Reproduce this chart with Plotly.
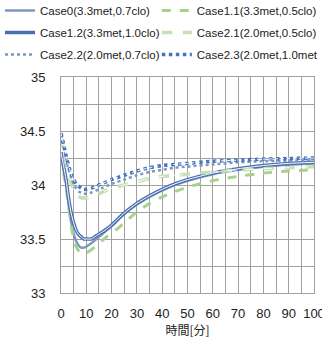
import plotly.graph_objects as go

time_min = [0, 1, 2, 3, 4, 5, 6, 7, 8, 9, 10, 12, 14, 16, 18, 20, 25, 30, 35, 40, 45, 50, 60, 70, 80, 90, 100]

case0 = [34.30, 34.15, 34.02, 33.82, 33.66, 33.55, 33.48, 33.44, 33.42, 33.42, 33.43, 33.46, 33.50, 33.54, 33.58, 33.62,
         33.73, 33.82, 33.89, 33.95, 34.00, 34.04, 34.10, 34.14, 34.17, 34.19, 34.20]
case1_1 = [34.28, 34.12, 33.98, 33.80, 33.63, 33.50, 33.43, 33.39, 33.37, 33.36, 33.37, 33.40, 33.44, 33.48, 33.52, 33.55,
           33.65, 33.75, 33.83, 33.89, 33.94, 33.98, 34.04, 34.08, 34.11, 34.13, 34.14]
case1_2 = [34.30, 34.18, 34.05, 33.88, 33.74, 33.65, 33.58, 33.54, 33.52, 33.50, 33.50, 33.50, 33.53, 33.56, 33.59, 33.63,
           33.74, 33.83, 33.90, 33.96, 34.01, 34.05, 34.11, 34.15, 34.18, 34.20, 34.21]
case2_1 = [34.45, 34.32, 34.20, 34.10, 34.02, 33.96, 33.92, 33.90, 33.88, 33.88, 33.88, 33.89, 33.91, 33.93, 33.95, 33.97,
           34.00, 34.03, 34.06, 34.08, 34.09, 34.10, 34.12, 34.14, 34.15, 34.16, 34.17]
case2_2 = [34.47, 34.36, 34.25, 34.15, 34.07, 34.01, 33.97, 33.94, 33.93, 33.92, 33.92, 33.93, 33.95, 33.97, 33.99, 34.01,
           34.05, 34.09, 34.12, 34.14, 34.16, 34.17, 34.19, 34.21, 34.22, 34.225, 34.23]
case2_3 = [34.48, 34.38, 34.27, 34.18, 34.10, 34.05, 34.01, 33.99, 33.97, 33.96, 33.96, 33.97, 33.99, 34.01, 34.03, 34.05,
           34.09, 34.13, 34.16, 34.18, 34.19, 34.20, 34.22, 34.23, 34.24, 34.245, 34.25]

names = ["Case0(3.3met,0.7clo)", "Case1.1(3.3met,0.5clo)", "Case1.2(3.3met,1.0clo)",
         "Case2.1(2.0met,0.5clo)", "Case2.2(2.0met,0.7clo)", "Case2.3(2.0met,1.0met"]

x_ticks = [0, 10, 20, 30, 40, 50, 60, 70, 80, 90, 100]
y_ticks = [33, 33.5, 34, 34.5, 35]
y_tick_labels = ["33", "33.5", "34", "34.5", "35"]

fig = go.Figure()

# (series, name, color, width, dash, double, legend column)
styles = [
    (case0, names[0], "#7F96C0", 2.5, "solid", False, "legend"),
    (case1_1, names[1], "#A9D18E", 3, "dash", False, "legend2"),
    (case1_2, names[2], "#4A6FB0", 3.5, "solid", True, "legend"),
    (case2_1, names[3], "#C5E0B4", 3.5, "dash", True, "legend2"),
    (case2_2, names[4], "#7F96C0", 2.5, "dot", False, "legend"),
    (case2_3, names[5], "#4472C4", 3.5, "dot", True, "legend2"),
]

for i, (ys, nm, col, w, dash, dbl, lg) in enumerate(styles):
    fig.add_trace(go.Scatter(
        x=time_min, y=ys, mode="lines", name=nm, legendgroup=nm, legend=lg,
        line=dict(color=col, width=w, dash=dash, shape="spline", smoothing=0.6),
        legendrank=i,
    ))
    if dbl:
        fig.add_trace(go.Scatter(
            x=time_min, y=ys, mode="lines", name=nm, legendgroup=nm, showlegend=False, legend=lg,
            line=dict(color="white", width=1, dash=dash, shape="spline", smoothing=0.6),
            hoverinfo="skip",
        ))

grid_col = "#A0A0A0"
leg_common = dict(
    orientation="v", xref="container", yref="paper", xanchor="left", yanchor="top",
    font=dict(size=11.5, family="Liberation Sans, Arial, sans-serif", color="#222"),
    tracegroupgap=3, bgcolor="rgba(0,0,0,0)", traceorder="grouped",
)
fig.update_layout(
    width=322, height=340,
    margin=dict(l=61, r=8, t=77, b=47, autoexpand=False),
    paper_bgcolor="white", plot_bgcolor="white",
    font=dict(family="Liberation Sans, Arial, sans-serif", size=12, color="#222"),
    showlegend=True,
    legend=dict(x=0.0, y=1.375, **leg_common),
    legend2=dict(x=0.487, y=1.375, **leg_common),
    xaxis=dict(
        range=[0, 100], tickmode="array", tickvals=x_ticks, ticktext=[str(v) for v in x_ticks],
        showgrid=True, gridcolor=grid_col, gridwidth=1,
        minor=dict(dtick=5, showgrid=True, gridcolor=grid_col, gridwidth=1),
        showline=True, linecolor=grid_col, linewidth=1, mirror=True,
        ticks="", ticklabelstandoff=8, zeroline=False, ticklabeloverflow="allow",
        tickfont=dict(size=13),
        title=dict(text="時間[分]", font=dict(size=12, family="Noto Sans CJK JP"), standoff=2),
    ),
    yaxis=dict(
        range=[33, 35], tickmode="array", tickvals=y_ticks, ticktext=y_tick_labels,
        showgrid=True, gridcolor=grid_col, gridwidth=1,
        minor=dict(dtick=0.25, showgrid=True, gridcolor=grid_col, gridwidth=1),
        showline=True, linecolor=grid_col, linewidth=1, mirror=True,
        ticks="", ticklabelstandoff=12, zeroline=False,
        tickfont=dict(size=13),
        title=dict(text="温度[℃]", font=dict(size=12, family="Noto Sans CJK JP"), standoff=4),
    ),
)

fig.write_html("out.html", config={"displayModeBar": False},
               post_script="document.body.style.margin='0';document.body.style.overflow='hidden';")
